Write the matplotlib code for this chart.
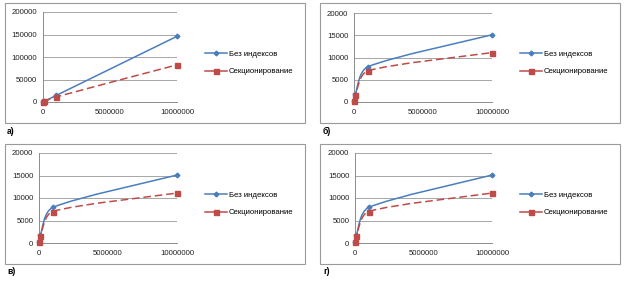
# Время выполнения запросов: без индексов / секционирование (4 панели)
import numpy as np
import matplotlib.pyplot as plt
from matplotlib.path import Path
from matplotlib.patches import PathPatch, Rectangle
from matplotlib.lines import Line2D

plt.rcParams['font.family'] = ['Liberation Sans', 'DejaVu Sans']

W, H = 631, 282

# data
rows = [10000, 100000, 1000000, 10000000]
series_names = ['Без индексов', 'Секционирование']
panel_labels = ['а)', 'б)', 'в)', 'г)']

a_no_index = [150, 1500, 14800, 146000]
a_section = [100, 1200, 11500, 82500]
b_no_index = [250, 1800, 7900, 15100]
b_section = [300, 1600, 7000, 11100]
v_no_index = [250, 1800, 7900, 15100]
v_section = [300, 1600, 7000, 11100]
g_no_index = [250, 1800, 7900, 15100]
g_section = [300, 1600, 7000, 11100]

a_yticks = [0, 50000, 100000, 150000, 200000]
bvg_yticks = [0, 5000, 10000, 15000, 20000]
xticks = [0, 5000000, 10000000]

BLUE = '#4A7EBB'
RED = '#BE4B48'
GRID = '#A6A6A6'
FS = 5.6


def fig_rect(x0, y0, x1, y1):
    # pixel box (top-left origin) -> figure fraction rect
    return [x0 / W, 1 - y1 / H, (x1 - x0) / W, (y1 - y0) / H]


def smooth_path(xs, ys, xmax, ymax, aspect):
    # smoothed line like Excel: cubic Bezier through the points,
    # tangents worked out in screen-like (normalised) space
    pts = np.column_stack([np.array(xs, float) / xmax * aspect,
                           np.array(ys, float) / ymax])
    n = len(pts)
    tang = []
    for i in range(n):
        d = pts[min(i + 1, n - 1)] - pts[max(i - 1, 0)]
        tang.append(d)
    verts = [pts[0]]
    codes = [Path.MOVETO]
    for i in range(n - 1):
        seg = np.hypot(*(pts[i + 1] - pts[i])) / 3
        t1, t2 = tang[i], tang[i + 1]
        a1 = min(np.hypot(*t1) / 6, seg)
        a2 = min(np.hypot(*t2) / 6, seg)
        verts += [pts[i] + t1 / np.hypot(*t1) * a1,
                  pts[i + 1] - t2 / np.hypot(*t2) * a2, pts[i + 1]]
        codes += [Path.CURVE4] * 3
    verts = np.array(verts)
    verts[:, 0] = verts[:, 0] / aspect * xmax
    verts[:, 1] = verts[:, 1] * ymax
    return Path(verts, codes)


fig = plt.figure(figsize=(W / 100, H / 100), dpi=100)

panels = [
    # box, plot area, legend pos, label pos, data
    ((5, 3, 305, 123), (43, 12, 177, 102), (205, 63), (7, 131), a_no_index, a_section, a_yticks),
    ((320, 3, 620, 123), (354, 13, 492, 102), (520, 63), (323, 131), b_no_index, b_section, bvg_yticks),
    ((5, 144, 305, 264), (39, 153, 177, 243), (205, 204), (7, 271), v_no_index, v_section, bvg_yticks),
    ((320, 144, 620, 264), (355, 153, 492, 243), (520, 204), (323, 271), g_no_index, g_section, bvg_yticks),
]

for i, (box, area, leg, lab, no_idx, sect, yt) in enumerate(panels):
    fig.patches.append(Rectangle((box[0] / W, 1 - box[3] / H), (box[2] - box[0]) / W,
                                 (box[3] - box[1]) / H, transform=fig.transFigure,
                                 fill=False, edgecolor='#9A9A9A', linewidth=0.8))
    fig.text(lab[0] / W, 1 - lab[1] / H, panel_labels[i], fontsize=FS + 0.6,
             fontweight='bold', va='center', ha='left')

    ax = fig.add_axes(fig_rect(*area))
    ax.set_xlim(0, xticks[-1])
    ax.set_ylim(yt[0], yt[-1])
    ax.set_xticks(xticks)
    ax.set_yticks(yt)
    ax.set_xticklabels([str(t) for t in xticks])
    ax.set_yticklabels([str(t) for t in yt])
    ax.tick_params(length=0, labelsize=FS, colors='#222222', pad=4)
    ax.tick_params(axis='x', pad=5)
    ax.grid(axis='y', color=GRID, linewidth=0.7)
    ax.set_axisbelow(True)
    for s in ['top', 'right']:
        ax.spines[s].set_visible(False)
    for s in ['left', 'bottom']:
        ax.spines[s].set_color('#8C8C8C')
        ax.spines[s].set_linewidth(0.7)

    aspect = (area[2] - area[0]) / (area[3] - area[1])
    ax.add_patch(PathPatch(smooth_path(rows, no_idx, xticks[-1], yt[-1], aspect),
                           fill=False, edgecolor=BLUE, linewidth=1.1, zorder=3))
    ax.add_patch(PathPatch(smooth_path(rows, sect, xticks[-1], yt[-1], aspect),
                           fill=False, edgecolor=RED, linewidth=1.1,
                           linestyle=(0, (5, 2.5)), zorder=3))
    ax.plot(rows, no_idx, linestyle='none', marker='D', markersize=2.4,
            color=BLUE, zorder=4, clip_on=False)
    ax.plot(rows, sect, linestyle='none', marker='s', markersize=3.6,
            color=RED, zorder=4, clip_on=False)

    handles = [
        Line2D([], [], color=BLUE, linewidth=1.1, marker='D', markersize=2.4),
        Line2D([], [], color=RED, linewidth=1.1, marker='s', markersize=3.6),
    ]
    ax.legend(handles, series_names, loc='center left',
              bbox_to_anchor=(leg[0] / W, 1 - leg[1] / H),
              bbox_transform=fig.transFigure, frameon=False, fontsize=FS,
              handlelength=2.8, handletextpad=0.3, labelspacing=1.3,
              borderpad=0, borderaxespad=0)

fig.savefig('out.png', dpi=100)
